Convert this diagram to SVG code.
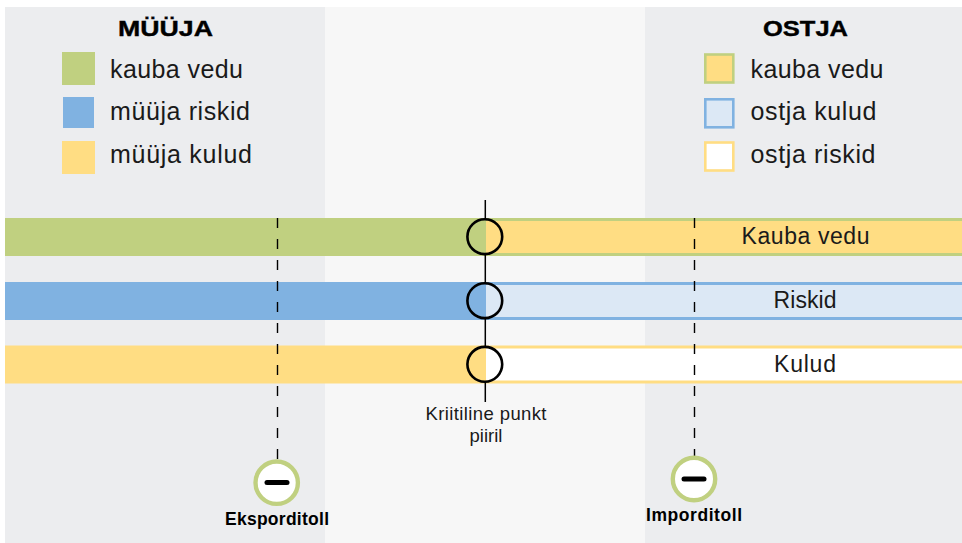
<svg xmlns="http://www.w3.org/2000/svg" width="962" height="543" viewBox="0 0 962 543">
<style>
text{font-family:"Liberation Sans",Arial,sans-serif;fill:#1a1a1a}
.t{font-size:25px}
.h{font-size:22px;font-weight:bold;fill:#000;stroke:#000;stroke-width:.4px}
.b{font-size:23px}
.c{font-size:18.5px;text-anchor:middle}
.l{font-size:17.5px;font-weight:bold;fill:#000;text-anchor:middle}
.ring{fill:none;stroke:#000;stroke-width:2.6}
.dash{stroke:#000;stroke-width:1.4;stroke-dasharray:10 11;fill:none}
.toll{fill:#fff;stroke:#c0d080;stroke-width:4.4}
.minus{stroke:#000;stroke-width:5;stroke-linecap:round}
</style>
<rect width="962" height="543" fill="#fff"/>
<g id="panels">
<rect x="5" y="7" width="320" height="536" fill="#ecedef"/>
<rect x="325" y="7" width="320" height="536" fill="#f7f7f7"/>
<rect x="645" y="7" width="317" height="536" fill="#ecedef"/>
</g>
<g id="legend-seller">
<text class="h" x="118" y="36" textLength="95" lengthAdjust="spacingAndGlyphs">MÜÜJA</text>
<rect x="62" y="52" width="33" height="33" fill="#c0d080"/>
<rect x="63" y="97" width="31" height="31" fill="#80b2e1"/>
<rect x="62" y="141" width="33" height="33" fill="#ffdd83"/>
<text class="t" x="110" y="78" textLength="133">kauba vedu</text>
<text class="t" x="110" y="120" textLength="140">müüja riskid</text>
<text class="t" x="110" y="163" textLength="142">müüja kulud</text>
</g>
<g id="legend-buyer">
<text class="h" x="763" y="36" textLength="85" lengthAdjust="spacingAndGlyphs">OSTJA</text>
<rect x="705.3" y="54.5" width="28" height="28" fill="#ffdd83" stroke="#c0d080" stroke-width="2.6"/>
<rect x="705.3" y="99.3" width="28" height="28" fill="#dce8f5" stroke="#80b2e1" stroke-width="2.6"/>
<rect x="705.3" y="142.5" width="28" height="28" fill="#fff" stroke="#ffdd83" stroke-width="2.6"/>
<text class="t" x="750.5" y="78" textLength="133">kauba vedu</text>
<text class="t" x="750.5" y="120" textLength="126">ostja kulud</text>
<text class="t" x="750.5" y="163" textLength="125">ostja riskid</text>
</g>
<g id="bar-kauba-vedu">
<rect x="5" y="218" width="481" height="38" fill="#c0d080"/>
<rect x="486" y="218" width="476" height="38" fill="#c0d080"/>
<rect x="486" y="221" width="476" height="32" fill="#ffdd83"/>
<text class="b" x="805.5" y="244" text-anchor="middle" textLength="128">Kauba vedu</text>
</g>
<g id="bar-riskid">
<rect x="5" y="282" width="481" height="38" fill="#80b2e1"/>
<rect x="486" y="282" width="476" height="38" fill="#80b2e1"/>
<rect x="486" y="285" width="476" height="32" fill="#dce8f5"/>
<text class="b" x="805" y="308" text-anchor="middle" textLength="63">Riskid</text>
</g>
<g id="bar-kulud">
<rect x="5" y="345.5" width="481" height="38" fill="#ffdd83"/>
<rect x="486" y="345.5" width="476" height="38" fill="#ffdd83"/>
<rect x="486" y="348.5" width="476" height="32" fill="#fff"/>
<text class="b" x="805" y="372" text-anchor="middle" textLength="62">Kulud</text>
</g>
<g id="connectors">
<path d="M485.3 200V219M485.3 254V283M485.3 318V347M485.3 382V402" stroke="#000" stroke-width="1.5" fill="none"/>
<line class="dash" x1="277.5" y1="218" x2="277.5" y2="462"/>
<line class="dash" x1="694.5" y1="218" x2="694.5" y2="458"/>
</g>
<g id="critical-point">
<circle class="ring" cx="484.8" cy="236.7" r="17.4"/>
<circle class="ring" cx="484.8" cy="300.7" r="17.4"/>
<circle class="ring" cx="484.8" cy="364.3" r="17.4"/>
<text class="c" x="486" y="420" textLength="121">Kriitiline punkt</text>
<text class="c" x="486" y="442">piiril</text>
</g>
<g id="eksporditoll">
<circle class="toll" cx="276.7" cy="482.7" r="21.2"/>
<line class="minus" x1="267" y1="482.5" x2="287" y2="482.5"/>
<text class="l" x="277" y="525" textLength="104">Eksporditoll</text>
</g>
<g id="imporditoll">
<circle class="toll" cx="694" cy="479" r="21.2"/>
<line class="minus" x1="684" y1="479" x2="704" y2="479"/>
<text class="l" x="694" y="521" textLength="96">Imporditoll</text>
</g>
</svg>
